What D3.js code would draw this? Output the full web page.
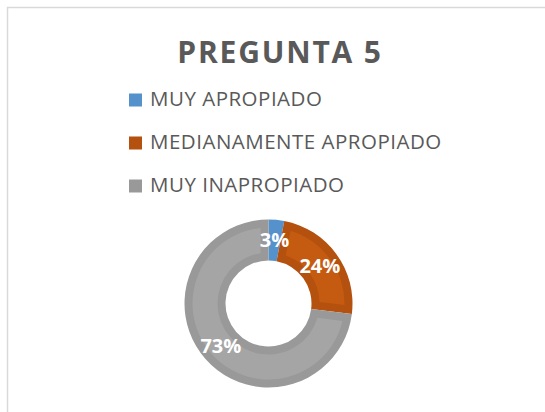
<!DOCTYPE html>
<html>
<head>
<meta charset="utf-8">
<script src="https://cdn.jsdelivr.net/npm/d3@7"></script>
<style>
  body { margin: 0; background: #fff; }
  svg { display: block; }
</style>
</head>
<body>
<div id="chart"></div>
<script>
// chart data
var categories = ["MUY APROPIADO", "MEDIANAMENTE APROPIADO", "MUY INAPROPIADO"];
var values = [3, 24, 73];
var valueLabels = ["3%", "24%", "73%"];

var svgWidth = 545;
var svgHeight = 412;

var cx = 268.5, cy = 303.5;
var outerR = 84, innerR = 43;
var band = 8; // darker bevel band

var svg = d3.select("#chart").append("svg")
  .attr("width", svgWidth)
  .attr("height", svgHeight);

// chart area border (only left/top visible)
svg.append("rect")
  .attr("x", 7.5).attr("y", 7.5)
  .attr("width", 700).attr("height", 600)
  .attr("fill", "none")
  .attr("stroke", "#d9d9d9")
  .attr("stroke-width", 1.5);

// title
svg.append("text")
  .attr("x", 280).attr("y", 63)
  .attr("text-anchor", "middle")
  .attr("font-family", "Open Sans")
  .attr("font-weight", "bold")
  .attr("font-size", 30)
  .attr("letter-spacing", 1.8)
  .attr("fill", "#595959")
  .text("PREGUNTA 5");

var darkColor = d3.scaleOrdinal().domain(categories).range(["#5592cc", "#b4510e", "#999999"]);
var lightColor = d3.scaleOrdinal().domain(categories).range(["#5b9bd5", "#c55a11", "#a5a5a5"]);

// legend
var legend = svg.selectAll(".legend")
  .data(categories)
  .enter().append("g")
  .attr("class", "legend")
  .attr("transform", (d, i) => `translate(129, ${106 + i * 43})`);

legend.append("rect")
  .attr("x", 0).attr("y", -12.5)
  .attr("width", 13).attr("height", 13)
  .attr("fill", d => darkColor(d));

legend.append("text")
  .attr("x", 21).attr("y", 0)
  .attr("font-family", "Open Sans")
  .attr("font-size", 20.5)
  .attr("letter-spacing", 0.5)
  .attr("fill", "#595959")
  .text(d => d);

// donut
var pie = d3.pie().sort(null).value(d => d.value);
var arcs = pie(categories.map((c, i) => ({ name: c, value: values[i], label: valueLabels[i] })));

var arc = d3.arc().innerRadius(innerR).outerRadius(outerR);
var padR = (innerR + outerR) / 2;
var insetArc = d3.arc()
  .innerRadius(innerR + band)
  .outerRadius(outerR - band)
  .padRadius(padR)
  .padAngle(2 * band / padR);

var donut = svg.append("g")
  .attr("transform", `translate(${cx}, ${cy})`);

donut.selectAll(".slice")
  .data(arcs)
  .enter().append("path")
  .attr("class", "slice")
  .attr("d", arc)
  .attr("fill", d => darkColor(d.data.name));

donut.selectAll(".inset")
  .data(arcs.filter(d => (d.endAngle - d.startAngle) * padR > 4 * band))
  .enter().append("path")
  .attr("class", "inset")
  .attr("d", insetArc)
  .attr("fill", d => lightColor(d.data.name));

donut.selectAll(".lbl")
  .data(arcs)
  .enter().append("text")
  .attr("class", "lbl")
  .attr("transform", d => `translate(${arc.centroid(d)})`)
  .attr("dy", "0.36em")
  .attr("text-anchor", "middle")
  .attr("font-family", "Open Sans")
  .attr("font-weight", "bold")
  .attr("font-size", 20)
  .attr("fill", "#ffffff")
  .text(d => d.data.label);
</script>
</body>
</html>
